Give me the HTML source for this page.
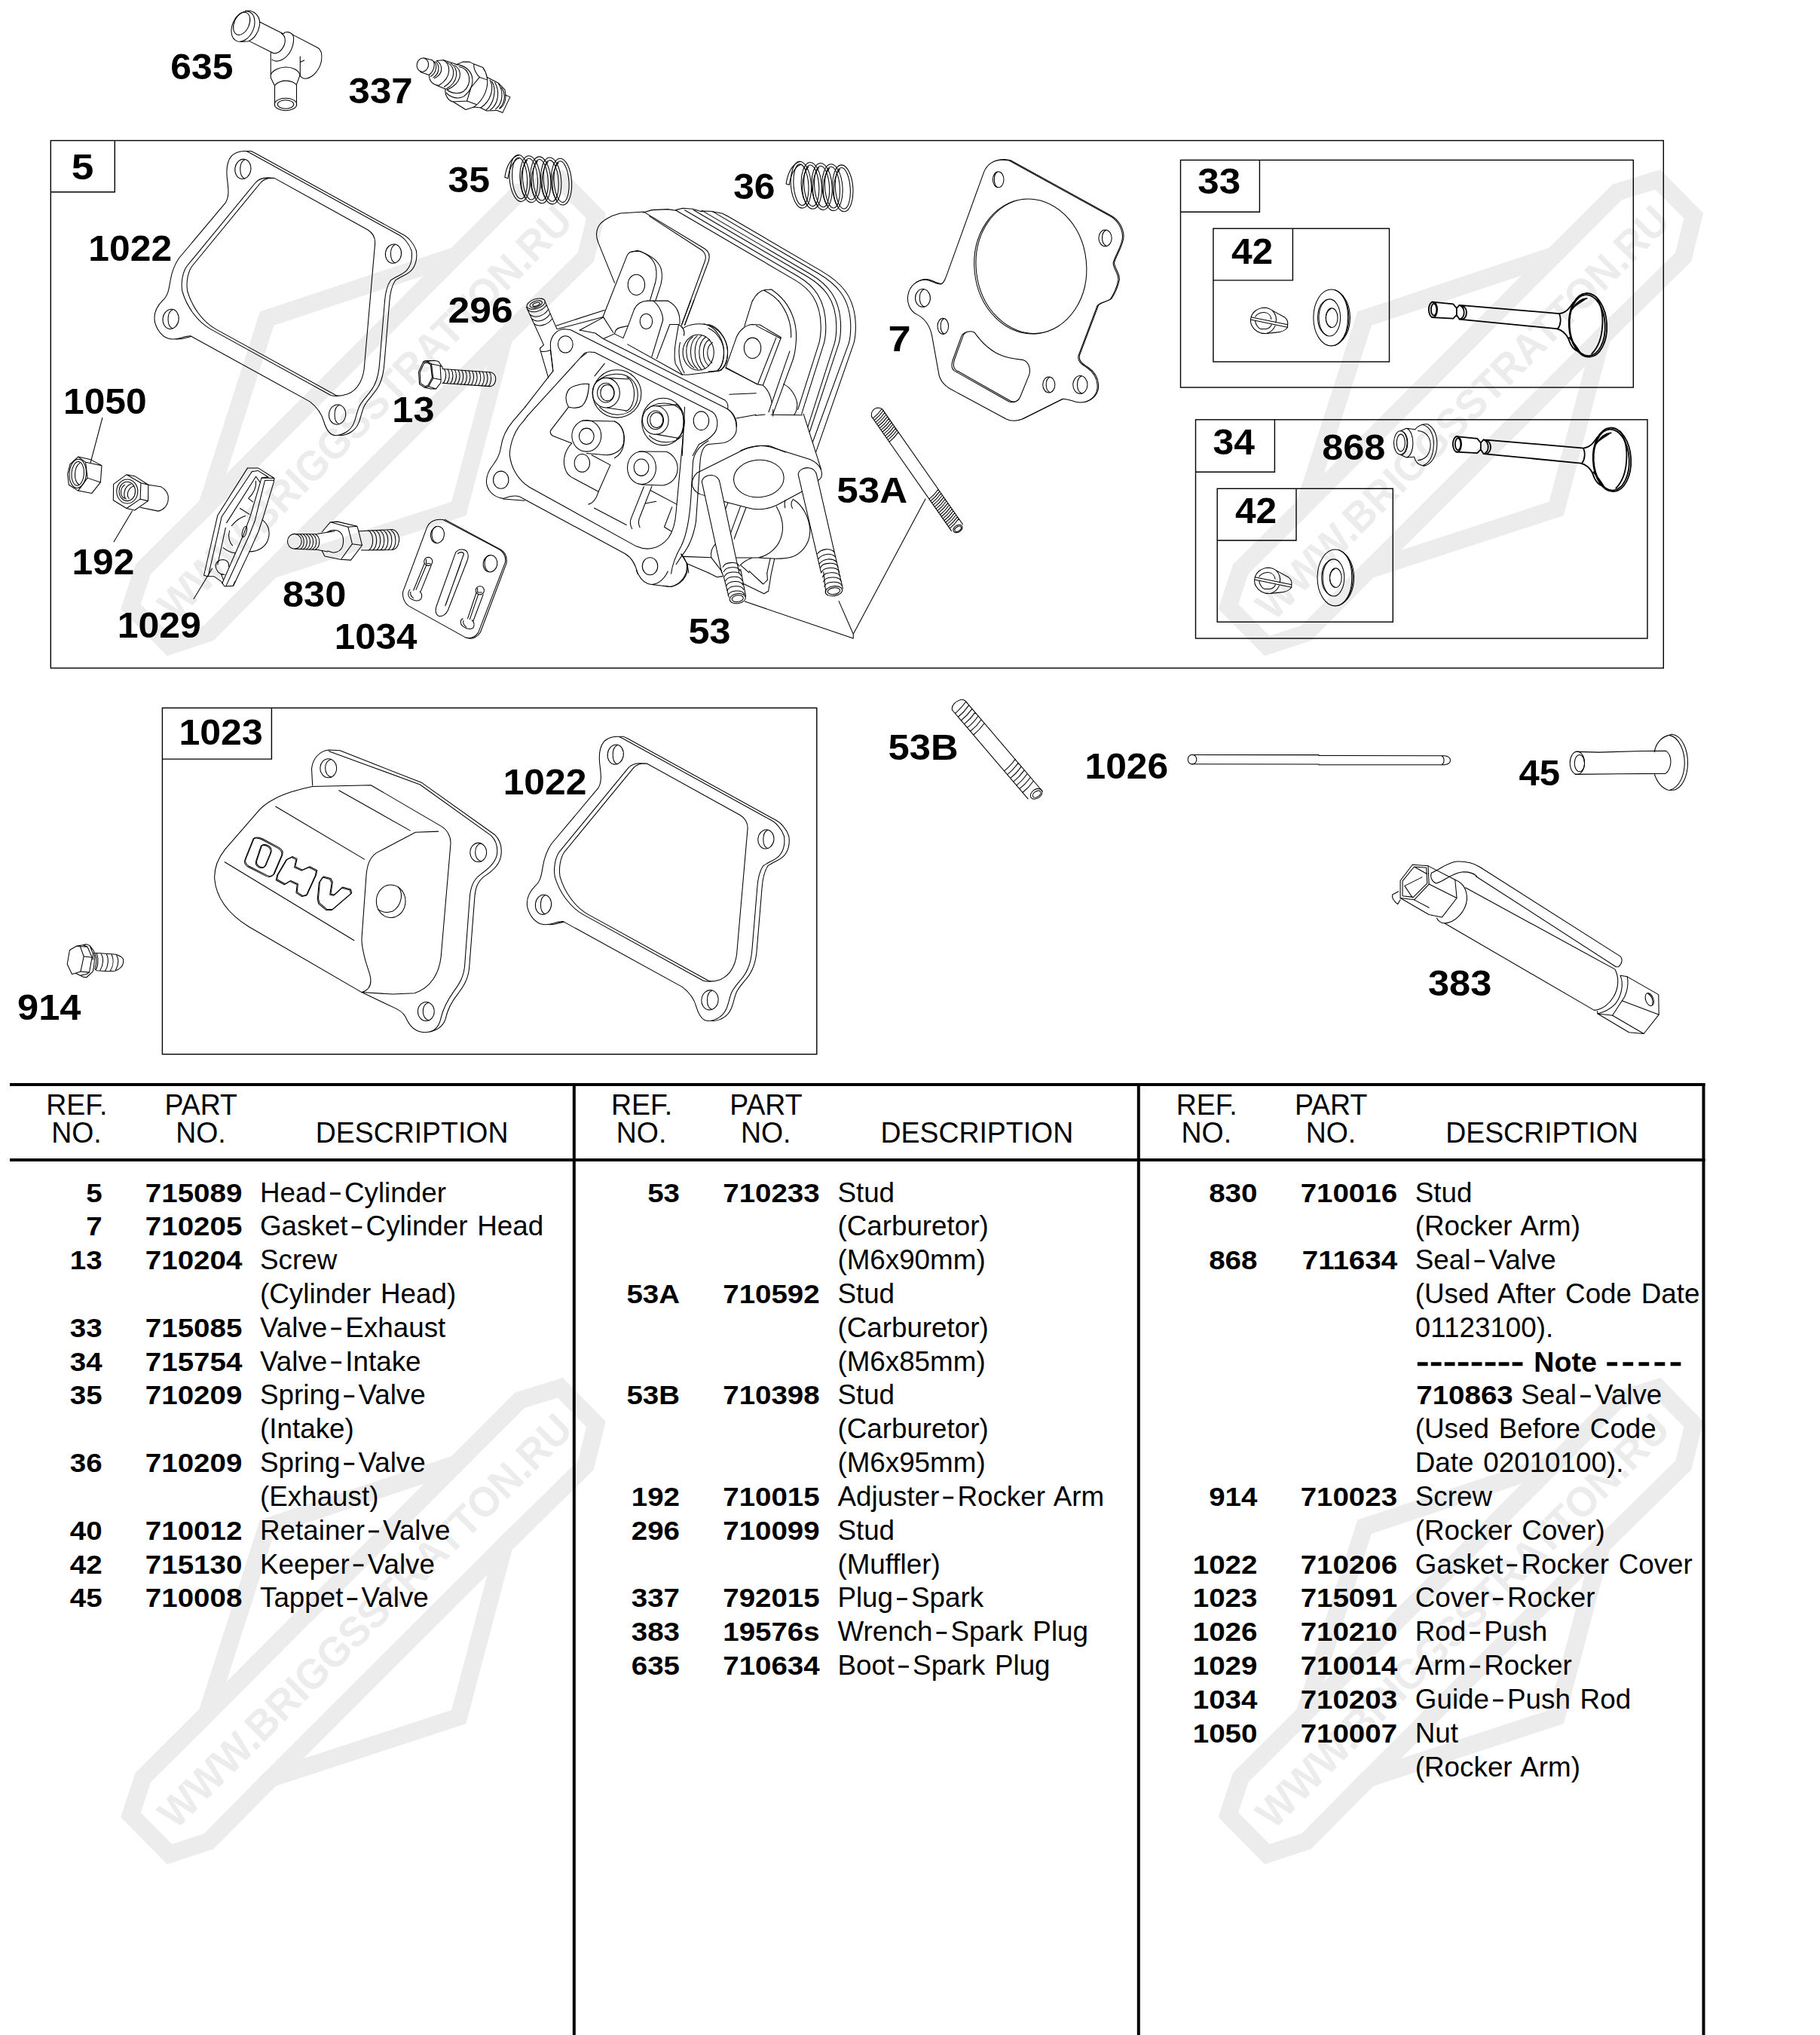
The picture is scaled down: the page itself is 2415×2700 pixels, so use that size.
<!DOCTYPE html>
<html><head><meta charset="utf-8"><title>Cylinder Head Parts</title>
<style>
html,body{margin:0;padding:0;background:#fff;}
svg{display:block;font-family:"Liberation Sans",sans-serif;}
.b{font-weight:bold;}
.ln{fill:none;stroke:#000;stroke-linejoin:round;stroke-linecap:round;}
.w{fill:#fff;}
.bx{fill:none;stroke:#000;stroke-width:1.4;}
</style></head><body>
<svg width="2415" height="2700" viewBox="0 0 2415 2700">
<rect width="2415" height="2700" fill="#fff"/>
<g fill="#000"><rect x="13.0" y="1437.0" width="2249.5" height="4"/><rect x="13.0" y="1537.0" width="2249.5" height="4"/><rect x="759.8" y="1437.0" width="4" height="1263.0"/><rect x="1508.8" y="1437.0" width="4" height="1263.0"/><rect x="2258.5" y="1437.0" width="4" height="1263.0"/></g>
<text transform="translate(101.80 1478.60) scale(0.9850 1)" font-size="38.00" text-anchor="middle">REF.</text><text transform="translate(101.40 1516.30) scale(0.9850 1)" font-size="38.00" text-anchor="middle">NO.</text><text transform="translate(266.70 1478.60) scale(0.9850 1)" font-size="38.00" text-anchor="middle">PART</text><text transform="translate(266.50 1516.30) scale(0.9850 1)" font-size="38.00" text-anchor="middle">NO.</text><text transform="translate(546.60 1516.30) scale(0.9850 1)" font-size="38.00" text-anchor="middle">DESCRIPTION</text><text transform="translate(851.50 1478.60) scale(0.9850 1)" font-size="38.00" text-anchor="middle">REF.</text><text transform="translate(851.10 1516.30) scale(0.9850 1)" font-size="38.00" text-anchor="middle">NO.</text><text transform="translate(1016.40 1478.60) scale(0.9850 1)" font-size="38.00" text-anchor="middle">PART</text><text transform="translate(1016.20 1516.30) scale(0.9850 1)" font-size="38.00" text-anchor="middle">NO.</text><text transform="translate(1296.30 1516.30) scale(0.9850 1)" font-size="38.00" text-anchor="middle">DESCRIPTION</text><text transform="translate(1601.20 1478.60) scale(0.9850 1)" font-size="38.00" text-anchor="middle">REF.</text><text transform="translate(1600.80 1516.30) scale(0.9850 1)" font-size="38.00" text-anchor="middle">NO.</text><text transform="translate(1766.10 1478.60) scale(0.9850 1)" font-size="38.00" text-anchor="middle">PART</text><text transform="translate(1765.90 1516.30) scale(0.9850 1)" font-size="38.00" text-anchor="middle">NO.</text><text transform="translate(2046.00 1516.30) scale(0.9850 1)" font-size="38.00" text-anchor="middle">DESCRIPTION</text>
<text transform="translate(135.60 1594.50) scale(1.0850 1)" font-size="35.50" class="b" text-anchor="end">5</text><text transform="translate(321.30 1594.50) scale(1.0850 1)" font-size="35.50" class="b" text-anchor="end">715089</text><text word-spacing="2.5" x="345.00" y="1594.50" font-size="36.80">Head</text><rect x="437.98" y="1582.20" width="13.8" height="2.9"/><text word-spacing="2.5" x="456.98" y="1594.50" font-size="36.80">Cylinder</text><text transform="translate(135.60 1639.33) scale(1.0850 1)" font-size="35.50" class="b" text-anchor="end">7</text><text transform="translate(321.30 1639.33) scale(1.0850 1)" font-size="35.50" class="b" text-anchor="end">710205</text><text word-spacing="2.5" x="345.00" y="1639.33" font-size="36.80">Gasket</text><rect x="466.58" y="1627.03" width="13.8" height="2.9"/><text word-spacing="2.5" x="485.58" y="1639.33" font-size="36.80">Cylinder Head</text><text transform="translate(135.60 1684.16) scale(1.0850 1)" font-size="35.50" class="b" text-anchor="end">13</text><text transform="translate(321.30 1684.16) scale(1.0850 1)" font-size="35.50" class="b" text-anchor="end">710204</text><text word-spacing="2.5" x="345.00" y="1684.16" font-size="36.80">Screw</text><text word-spacing="2.5" x="345.00" y="1728.99" font-size="36.80">(Cylinder Head)</text><text transform="translate(135.60 1773.82) scale(1.0850 1)" font-size="35.50" class="b" text-anchor="end">33</text><text transform="translate(321.30 1773.82) scale(1.0850 1)" font-size="35.50" class="b" text-anchor="end">715085</text><text word-spacing="2.5" x="345.00" y="1773.82" font-size="36.80">Valve</text><rect x="439.32" y="1761.52" width="13.8" height="2.9"/><text word-spacing="2.5" x="458.32" y="1773.82" font-size="36.80">Exhaust</text><text transform="translate(135.60 1818.65) scale(1.0850 1)" font-size="35.50" class="b" text-anchor="end">34</text><text transform="translate(321.30 1818.65) scale(1.0850 1)" font-size="35.50" class="b" text-anchor="end">715754</text><text word-spacing="2.5" x="345.00" y="1818.65" font-size="36.80">Valve</text><rect x="439.32" y="1806.35" width="13.8" height="2.9"/><text word-spacing="2.5" x="458.32" y="1818.65" font-size="36.80">Intake</text><text transform="translate(135.60 1863.48) scale(1.0850 1)" font-size="35.50" class="b" text-anchor="end">35</text><text transform="translate(321.30 1863.48) scale(1.0850 1)" font-size="35.50" class="b" text-anchor="end">710209</text><text word-spacing="2.5" x="345.00" y="1863.48" font-size="36.80">Spring</text><rect x="456.38" y="1851.18" width="13.8" height="2.9"/><text word-spacing="2.5" x="475.38" y="1863.48" font-size="36.80">Valve</text><text word-spacing="2.5" x="345.00" y="1908.31" font-size="36.80">(Intake)</text><text transform="translate(135.60 1953.14) scale(1.0850 1)" font-size="35.50" class="b" text-anchor="end">36</text><text transform="translate(321.30 1953.14) scale(1.0850 1)" font-size="35.50" class="b" text-anchor="end">710209</text><text word-spacing="2.5" x="345.00" y="1953.14" font-size="36.80">Spring</text><rect x="456.38" y="1940.84" width="13.8" height="2.9"/><text word-spacing="2.5" x="475.38" y="1953.14" font-size="36.80">Valve</text><text word-spacing="2.5" x="345.00" y="1997.97" font-size="36.80">(Exhaust)</text><text transform="translate(135.60 2042.80) scale(1.0850 1)" font-size="35.50" class="b" text-anchor="end">40</text><text transform="translate(321.30 2042.80) scale(1.0850 1)" font-size="35.50" class="b" text-anchor="end">710012</text><text word-spacing="2.5" x="345.00" y="2042.80" font-size="36.80">Retainer</text><rect x="489.10" y="2030.50" width="13.8" height="2.9"/><text word-spacing="2.5" x="508.10" y="2042.80" font-size="36.80">Valve</text><text transform="translate(135.60 2087.63) scale(1.0850 1)" font-size="35.50" class="b" text-anchor="end">42</text><text transform="translate(321.30 2087.63) scale(1.0850 1)" font-size="35.50" class="b" text-anchor="end">715130</text><text word-spacing="2.5" x="345.00" y="2087.63" font-size="36.80">Keeper</text><rect x="468.67" y="2075.33" width="13.8" height="2.9"/><text word-spacing="2.5" x="487.67" y="2087.63" font-size="36.80">Valve</text><text transform="translate(135.60 2132.46) scale(1.0850 1)" font-size="35.50" class="b" text-anchor="end">45</text><text transform="translate(321.30 2132.46) scale(1.0850 1)" font-size="35.50" class="b" text-anchor="end">710008</text><text word-spacing="2.5" x="345.00" y="2132.46" font-size="36.80">Tappet</text><rect x="460.49" y="2120.16" width="13.8" height="2.9"/><text word-spacing="2.5" x="479.49" y="2132.46" font-size="36.80">Valve</text>
<text transform="translate(902.00 1594.50) scale(1.0850 1)" font-size="35.50" class="b" text-anchor="end">53</text><text transform="translate(1087.70 1594.50) scale(1.0850 1)" font-size="35.50" class="b" text-anchor="end">710233</text><text word-spacing="2.5" x="1111.40" y="1594.50" font-size="36.80">Stud</text><text word-spacing="2.5" x="1111.40" y="1639.33" font-size="36.80">(Carburetor)</text><text word-spacing="2.5" x="1111.40" y="1684.16" font-size="36.80">(M6x90mm)</text><text transform="translate(902.00 1728.99) scale(1.0850 1)" font-size="35.50" class="b" text-anchor="end">53A</text><text transform="translate(1087.70 1728.99) scale(1.0850 1)" font-size="35.50" class="b" text-anchor="end">710592</text><text word-spacing="2.5" x="1111.40" y="1728.99" font-size="36.80">Stud</text><text word-spacing="2.5" x="1111.40" y="1773.82" font-size="36.80">(Carburetor)</text><text word-spacing="2.5" x="1111.40" y="1818.65" font-size="36.80">(M6x85mm)</text><text transform="translate(902.00 1863.48) scale(1.0850 1)" font-size="35.50" class="b" text-anchor="end">53B</text><text transform="translate(1087.70 1863.48) scale(1.0850 1)" font-size="35.50" class="b" text-anchor="end">710398</text><text word-spacing="2.5" x="1111.40" y="1863.48" font-size="36.80">Stud</text><text word-spacing="2.5" x="1111.40" y="1908.31" font-size="36.80">(Carburetor)</text><text word-spacing="2.5" x="1111.40" y="1953.14" font-size="36.80">(M6x95mm)</text><text transform="translate(902.00 1997.97) scale(1.0850 1)" font-size="35.50" class="b" text-anchor="end">192</text><text transform="translate(1087.70 1997.97) scale(1.0850 1)" font-size="35.50" class="b" text-anchor="end">710015</text><text word-spacing="2.5" x="1111.40" y="1997.97" font-size="36.80">Adjuster</text><rect x="1251.40" y="1985.67" width="13.8" height="2.9"/><text word-spacing="2.5" x="1270.40" y="1997.97" font-size="36.80">Rocker Arm</text><text transform="translate(902.00 2042.80) scale(1.0850 1)" font-size="35.50" class="b" text-anchor="end">296</text><text transform="translate(1087.70 2042.80) scale(1.0850 1)" font-size="35.50" class="b" text-anchor="end">710099</text><text word-spacing="2.5" x="1111.40" y="2042.80" font-size="36.80">Stud</text><text word-spacing="2.5" x="1111.40" y="2087.63" font-size="36.80">(Muffler)</text><text transform="translate(902.00 2132.46) scale(1.0850 1)" font-size="35.50" class="b" text-anchor="end">337</text><text transform="translate(1087.70 2132.46) scale(1.0850 1)" font-size="35.50" class="b" text-anchor="end">792015</text><text word-spacing="2.5" x="1111.40" y="2132.46" font-size="36.80">Plug</text><rect x="1190.05" y="2120.16" width="13.8" height="2.9"/><text word-spacing="2.5" x="1209.05" y="2132.46" font-size="36.80">Spark</text><text transform="translate(902.00 2177.29) scale(1.0850 1)" font-size="35.50" class="b" text-anchor="end">383</text><text transform="translate(1087.70 2177.29) scale(1.0850 1)" font-size="35.50" class="b" text-anchor="end">19576s</text><text word-spacing="2.5" x="1111.40" y="2177.29" font-size="36.80">Wrench</text><rect x="1242.52" y="2164.99" width="13.8" height="2.9"/><text word-spacing="2.5" x="1261.52" y="2177.29" font-size="36.80">Spark Plug</text><text transform="translate(902.00 2222.12) scale(1.0850 1)" font-size="35.50" class="b" text-anchor="end">635</text><text transform="translate(1087.70 2222.12) scale(1.0850 1)" font-size="35.50" class="b" text-anchor="end">710634</text><text word-spacing="2.5" x="1111.40" y="2222.12" font-size="36.80">Boot</text><rect x="1192.10" y="2209.82" width="13.8" height="2.9"/><text word-spacing="2.5" x="1211.10" y="2222.12" font-size="36.80">Spark Plug</text>
<text transform="translate(1668.40 1594.50) scale(1.0850 1)" font-size="35.50" class="b" text-anchor="end">830</text><text transform="translate(1854.10 1594.50) scale(1.0850 1)" font-size="35.50" class="b" text-anchor="end">710016</text><text word-spacing="2.5" x="1877.80" y="1594.50" font-size="36.80">Stud</text><text word-spacing="2.5" x="1877.80" y="1639.33" font-size="36.80">(Rocker Arm)</text><text transform="translate(1668.40 1684.16) scale(1.0850 1)" font-size="35.50" class="b" text-anchor="end">868</text><text transform="translate(1854.10 1684.16) scale(1.0850 1)" font-size="35.50" class="b" text-anchor="end">711634</text><text word-spacing="2.5" x="1877.80" y="1684.16" font-size="36.80">Seal</text><rect x="1956.45" y="1671.86" width="13.8" height="2.9"/><text word-spacing="2.5" x="1975.45" y="1684.16" font-size="36.80">Valve</text><text word-spacing="2.5" x="1877.80" y="1728.99" font-size="36.80">(Used After Code Date</text><text word-spacing="2.5" x="1877.80" y="1773.82" font-size="36.80">01123100).</text><rect x="1880.80" y="1807.25" width="13.8" height="5"/><rect x="1898.78" y="1807.25" width="13.8" height="5"/><rect x="1916.76" y="1807.25" width="13.8" height="5"/><rect x="1934.74" y="1807.25" width="13.8" height="5"/><rect x="1952.72" y="1807.25" width="13.8" height="5"/><rect x="1970.70" y="1807.25" width="13.8" height="5"/><rect x="1988.68" y="1807.25" width="13.8" height="5"/><rect x="2006.66" y="1807.25" width="13.8" height="5"/><text transform="translate(2035.30 1819.65) scale(1.0300 1)" font-size="36.50" class="b">Note</text><rect x="2132.30" y="1807.25" width="13.8" height="5"/><rect x="2153.37" y="1807.25" width="13.8" height="5"/><rect x="2174.44" y="1807.25" width="13.8" height="5"/><rect x="2195.51" y="1807.25" width="13.8" height="5"/><rect x="2216.58" y="1807.25" width="13.8" height="5"/><text transform="translate(1879.30 1863.48) scale(1.0850 1)" font-size="35.50" class="b">710863</text><text word-spacing="2.5" x="2018.33" y="1863.48" font-size="36.80">Seal</text><rect x="2096.99" y="1851.18" width="13.8" height="2.9"/><text word-spacing="2.5" x="2115.99" y="1863.48" font-size="36.80">Valve</text><text word-spacing="2.5" x="1877.80" y="1908.31" font-size="36.80">(Used Before Code</text><text word-spacing="2.5" x="1877.80" y="1953.14" font-size="36.80">Date 02010100).</text><text transform="translate(1668.40 1997.97) scale(1.0850 1)" font-size="35.50" class="b" text-anchor="end">914</text><text transform="translate(1854.10 1997.97) scale(1.0850 1)" font-size="35.50" class="b" text-anchor="end">710023</text><text word-spacing="2.5" x="1877.80" y="1997.97" font-size="36.80">Screw</text><text word-spacing="2.5" x="1877.80" y="2042.80" font-size="36.80">(Rocker Cover)</text><text transform="translate(1668.40 2087.63) scale(1.0850 1)" font-size="35.50" class="b" text-anchor="end">1022</text><text transform="translate(1854.10 2087.63) scale(1.0850 1)" font-size="35.50" class="b" text-anchor="end">710206</text><text word-spacing="2.5" x="1877.80" y="2087.63" font-size="36.80">Gasket</text><rect x="1999.38" y="2075.33" width="13.8" height="2.9"/><text word-spacing="2.5" x="2018.38" y="2087.63" font-size="36.80">Rocker Cover</text><text transform="translate(1668.40 2132.46) scale(1.0850 1)" font-size="35.50" class="b" text-anchor="end">1023</text><text transform="translate(1854.10 2132.46) scale(1.0850 1)" font-size="35.50" class="b" text-anchor="end">715091</text><text word-spacing="2.5" x="1877.80" y="2132.46" font-size="36.80">Cover</text><rect x="1980.96" y="2120.16" width="13.8" height="2.9"/><text word-spacing="2.5" x="1999.96" y="2132.46" font-size="36.80">Rocker</text><text transform="translate(1668.40 2177.29) scale(1.0850 1)" font-size="35.50" class="b" text-anchor="end">1026</text><text transform="translate(1854.10 2177.29) scale(1.0850 1)" font-size="35.50" class="b" text-anchor="end">710210</text><text word-spacing="2.5" x="1877.80" y="2177.29" font-size="36.80">Rod</text><rect x="1950.31" y="2164.99" width="13.8" height="2.9"/><text word-spacing="2.5" x="1969.31" y="2177.29" font-size="36.80">Push</text><text transform="translate(1668.40 2222.12) scale(1.0850 1)" font-size="35.50" class="b" text-anchor="end">1029</text><text transform="translate(1854.10 2222.12) scale(1.0850 1)" font-size="35.50" class="b" text-anchor="end">710014</text><text word-spacing="2.5" x="1877.80" y="2222.12" font-size="36.80">Arm</text><rect x="1950.26" y="2209.82" width="13.8" height="2.9"/><text word-spacing="2.5" x="1969.26" y="2222.12" font-size="36.80">Rocker</text><text transform="translate(1668.40 2266.95) scale(1.0850 1)" font-size="35.50" class="b" text-anchor="end">1034</text><text transform="translate(1854.10 2266.95) scale(1.0850 1)" font-size="35.50" class="b" text-anchor="end">710203</text><text word-spacing="2.5" x="1877.80" y="2266.95" font-size="36.80">Guide</text><rect x="1981.00" y="2254.65" width="13.8" height="2.9"/><text word-spacing="2.5" x="2000.00" y="2266.95" font-size="36.80">Push Rod</text><text transform="translate(1668.40 2311.78) scale(1.0850 1)" font-size="35.50" class="b" text-anchor="end">1050</text><text transform="translate(1854.10 2311.78) scale(1.0850 1)" font-size="35.50" class="b" text-anchor="end">710007</text><text word-spacing="2.5" x="1877.80" y="2311.78" font-size="36.80">Nut</text><text word-spacing="2.5" x="1877.80" y="2356.61" font-size="36.80">(Rocker Arm)</text>
<rect class="bx" x="67.3" y="186.5" width="2140.0" height="699.9"/><path class="bx" d="M152.3 186.5V254.8H67.3"/><rect class="bx" x="1566.5" y="212.4" width="600.8" height="301.6"/><path class="bx" d="M1671.4 212.4V281.2H1566.5"/><rect class="bx" x="1609.9" y="303.2" width="233.6" height="176.8"/><path class="bx" d="M1715.4 303.2V371.9H1609.9"/><rect class="bx" x="1586.5" y="556.8" width="599.5" height="290.2"/><path class="bx" d="M1691.4 556.8V626.2H1586.5"/><rect class="bx" x="1615.2" y="648.3" width="233.1" height="176.9"/><path class="bx" d="M1720.0 648.3V717.0H1615.2"/><rect class="bx" x="215.4" y="939.3" width="868.4" height="459.4"/><path class="bx" d="M360.4 939.3V1007.1H215.4"/>
<text transform="translate(226.25 104.50) scale(1.0269 1)" font-size="48.60" class="b">635</text><text transform="translate(462.52 136.80) scale(1.0501 1)" font-size="48.60" class="b">337</text><text transform="translate(94.80 237.60) scale(1.0947 1)" font-size="48.60" class="b">5</text><text transform="translate(594.45 255.20) scale(1.0288 1)" font-size="48.60" class="b">35</text><text transform="translate(973.16 263.70) scale(1.0229 1)" font-size="48.60" class="b">36</text><text transform="translate(117.37 345.60) scale(1.0240 1)" font-size="48.60" class="b">1022</text><text transform="translate(594.59 428.10) scale(1.0617 1)" font-size="48.60" class="b">296</text><text transform="translate(1178.56 465.90) scale(1.1151 1)" font-size="48.60" class="b">7</text><text transform="translate(520.31 559.70) scale(1.0410 1)" font-size="48.60" class="b">13</text><text transform="translate(83.97 549.20) scale(1.0240 1)" font-size="48.60" class="b">1050</text><text transform="translate(95.47 761.60) scale(1.0222 1)" font-size="48.60" class="b">192</text><text transform="translate(155.65 845.70) scale(1.0293 1)" font-size="48.60" class="b">1029</text><text transform="translate(374.88 804.80) scale(1.0411 1)" font-size="48.60" class="b">830</text><text transform="translate(443.69 861.40) scale(1.0159 1)" font-size="48.60" class="b">1034</text><text transform="translate(913.59 853.50) scale(1.0357 1)" font-size="48.60" class="b">53</text><text transform="translate(1110.37 667.40) scale(1.0514 1)" font-size="48.60" class="b">53A</text><text transform="translate(1589.22 257.00) scale(1.0523 1)" font-size="48.60" class="b">33</text><text transform="translate(1633.95 349.70) scale(1.0220 1)" font-size="48.60" class="b">42</text><text transform="translate(1609.55 603.10) scale(1.0250 1)" font-size="48.60" class="b">34</text><text transform="translate(1754.18 610.00) scale(1.0397 1)" font-size="48.60" class="b">868</text><text transform="translate(1638.95 694.20) scale(1.0220 1)" font-size="48.60" class="b">42</text><text transform="translate(237.45 988.10) scale(1.0293 1)" font-size="48.60" class="b">1023</text><text transform="translate(667.66 1053.60) scale(1.0249 1)" font-size="48.60" class="b">1022</text><text transform="translate(23.03 1352.70) scale(1.0408 1)" font-size="48.60" class="b">914</text><text transform="translate(1178.58 1007.50) scale(1.0435 1)" font-size="48.60" class="b">53B</text><text transform="translate(1439.46 1033.10) scale(1.0244 1)" font-size="48.60" class="b">1026</text><text transform="translate(2015.56 1041.60) scale(1.0096 1)" font-size="48.60" class="b">45</text><text transform="translate(1894.94 1321.20) scale(1.0410 1)" font-size="48.60" class="b">383</text>
<!-- p01_boot635.svg -->
<g class="ln" transform="translate(290 0) scale(0.16484)" stroke-width="6.370">
<ellipse cx="197" cy="213" rx="86" ry="128" transform="rotate(24 197 213)"/>
<ellipse cx="186" cy="190" rx="60" ry="96" transform="rotate(24 186 190)"/>
<path d="M215 86L250 86C305 95 340 150 330 205C320 265 285 315 240 332L180 336"/>
<path d="M333 177L520 272M245 330L425 420"/>
<path d="M505 268C545 290 545 350 510 395C490 425 450 440 425 420"/>
<path d="M520 272C535 255 570 250 598 280C615 320 595 400 560 440C520 490 460 505 430 480"/>
<path d="M598 280L800 385C830 400 835 440 828 490C815 560 760 625 705 632C680 635 665 625 655 605"/>
<path d="M420 425L420 625L452 690L452 850M657 455L657 600L628 680L628 850M657 500L690 485"/>
<path d="M420 600C440 560 500 540 540 540C590 540 640 560 655 600M452 690C470 660 520 648 545 650C580 650 615 665 628 685"/>
<ellipse cx="540" cy="840" rx="89" ry="50"/><ellipse cx="540" cy="840" rx="65" ry="35"/>
</g>

<!-- p02_plug337.svg -->
<g class="ln" transform="translate(530 50) scale(0.0989)" stroke-width="10.617">
<ellipse cx="312" cy="365" rx="78" ry="92" transform="rotate(12 312 365)"/>
<path d="M330 272L440 300M280 460L395 500"/>
<path d="M440 300C490 340 470 450 395 500M460 318C515 360 500 470 420 520M485 320C545 370 540 480 455 535M500 310C580 360 600 480 470 545"/>
<path d="M500 308L590 300C680 340 720 520 530 640C450 640 400 580 400 510"/>
<path d="M640 330C760 400 760 560 600 660M690 345C800 420 800 590 625 690M740 370C850 440 850 600 640 700"/>
<path d="M590 300L770 360M500 640L620 690"/>
<path d="M770 360L850 325L940 325L1000 355L1120 400C1150 440 1170 500 1175 530"/>
<path d="M800 390C960 420 980 620 860 720C800 760 700 750 640 700M760 360C1000 380 1060 640 860 790C780 830 680 800 630 740"/>
<path d="M615 690C610 780 660 850 720 860L890 965L1000 930"/>
<path d="M1000 355C990 420 1040 500 1075 530L1175 565M1075 530L960 670L905 850L720 860M905 850L1030 895"/>
<path d="M1175 530C1200 650 1150 820 1000 930"/>
<path d="M1215 570C1280 680 1220 860 1090 940M1240 585C1310 700 1270 880 1160 975M1280 600C1350 720 1330 890 1220 970M1330 620C1400 720 1390 880 1290 960M1370 670C1430 760 1420 880 1340 950"/>
<path d="M1175 530L1330 610L1415 700L1425 770M1000 930L1090 940L1170 980L1310 975"/>
<path d="M1425 770L1485 795L1385 1005L1310 975M1425 770C1430 850 1400 920 1350 950"/>
</g>

<!-- p03_gasket1022.svg -->
<defs>
<path id="gkO" d="M520 580L755 300C775 270 770 230 765 190C758 140 760 95 785 65C805 45 835 38 860 40L881 50L1616 455C1650 470 1680 505 1691 540C1697 575 1690 615 1666 640C1645 662 1610 672 1586 690C1562 725 1558 770 1556 800L1531 1100C1528 1150 1520 1190 1500 1225C1480 1262 1445 1290 1428 1325C1415 1355 1412 1385 1400 1410C1385 1445 1350 1468 1310 1470C1282 1470 1262 1440 1250 1400C1242 1370 1225 1335 1180 1300L580 970C550 968 520 990 480 985C440 980 410 940 400 900C392 860 405 825 440 790C470 765 472 720 478 690C485 650 500 610 520 580Z"/>
<path id="gkI" d="M560 620L905 200C920 182 940 174 965 174L1000 175L1470 435C1495 450 1508 470 1508 500L1455 1110C1452 1180 1425 1240 1370 1262C1340 1272 1310 1275 1285 1268L680 935C610 895 560 820 538 745C530 700 540 650 560 620Z"/>
<clipPath id="gkC"><use href="#gkI"/></clipPath>
<g id="gk1022">
<use href="#gkO" class="w" transform="translate(24 0)"/>
<use href="#gkO" class="w"/>
<use href="#gkI" class="w"/>
<g clip-path="url(#gkC)"><use href="#gkI" transform="translate(26 0)"/></g>
<ellipse cx="843" cy="130" rx="40" ry="50" transform="rotate(8 843 130)"/><path d="M852 83C822 95 822 168 852 178"/>
<ellipse cx="1600" cy="556" rx="40" ry="48" transform="rotate(8 1600 556)"/><path d="M1609 510C1579 522 1579 592 1609 602"/>
<ellipse cx="480" cy="885" rx="40" ry="50" transform="rotate(8 480 885)"/><path d="M489 838C459 850 459 922 489 932"/>
<ellipse cx="1318" cy="1365" rx="42" ry="50" transform="rotate(8 1318 1365)"/><path d="M1327 1318C1297 1330 1297 1402 1327 1412"/>
</g>
</defs>
<g class="ln" transform="translate(100 190) scale(0.26374)" stroke-width="3.981"><use href="#gk1022"/></g>
<g class="ln" transform="translate(594.4 966.8) scale(0.26374)" stroke-width="3.981"><use href="#gk1022"/></g>

<!-- p04_springs.svg -->
<defs><g id="spr">
<ellipse cx="665" cy="282" rx="82" ry="188" transform="rotate(-4 665 282)"/>
<ellipse cx="665" cy="282" rx="60" ry="166" transform="rotate(-4 665 282)"/>
<ellipse cx="749" cy="289" rx="82" ry="188" transform="rotate(-4 749 289)"/>
<ellipse cx="749" cy="289" rx="60" ry="166" transform="rotate(-4 749 289)"/>
<ellipse cx="833" cy="296" rx="82" ry="188" transform="rotate(-4 833 296)"/>
<ellipse cx="833" cy="296" rx="60" ry="166" transform="rotate(-4 833 296)"/>
<ellipse cx="917" cy="303" rx="82" ry="188" transform="rotate(-4 917 303)"/>
<ellipse cx="917" cy="303" rx="60" ry="166" transform="rotate(-4 917 303)"/>
<ellipse cx="1001" cy="310" rx="82" ry="188" transform="rotate(-4 1001 310)"/>
<ellipse cx="1001" cy="310" rx="60" ry="166" transform="rotate(-4 1001 310)"/>
<path d="M725 136C665 206 660 366 710 436"/>
<path d="M809 143C749 213 744 373 794 443"/>
<path d="M893 150C833 220 828 380 878 450"/>
<path d="M977 157C917 227 912 387 962 457"/>
<path d="M545 275C555 200 590 110 660 95M570 283C580 210 610 135 665 118M545 275L570 283"/>
</g></defs>
<g class="ln" transform="translate(580 190) scale(0.16484)" stroke-width="6.370"><use href="#spr"/></g>
<g class="ln" transform="translate(953.3 198.7) scale(0.16484)" stroke-width="6.370"><use href="#spr"/></g>

<!-- p10_head_z1.svg -->
<g class="ln" transform="translate(700 400) scale(0.16484)" stroke-width="6.370">
<!-- TL ear + rim top edges -->
<ellipse cx="305" cy="345" rx="60" ry="68"/>
<path d="M205 560C200 480 180 400 185 330C195 270 235 230 290 222L345 228L1600 860C1655 890 1690 950 1682 1010"/>
<path d="M420 230L545 255L610 300L1590 795C1610 810 1615 835 1612 860"/>
<path d="M805 345L1245 590M1595 535L1850 665"/>
<path d="M0 920L460 415C475 405 500 403 540 410L1470 880C1520 900 1540 960 1520 1030C1500 1090 1420 1130 1380 1150L1330 1240"/>
<path d="M205 560L-20 850M430 450L475 415M540 600L620 500"/>
<!-- guide boss 1 -->
<ellipse cx="720" cy="743" rx="195" ry="192"/>
<path d="M565 640C640 570 790 560 850 640C900 700 900 800 850 860C790 930 660 930 580 850"/>
<ellipse cx="632" cy="735" rx="110" ry="120"/><ellipse cx="630" cy="735" rx="68" ry="78"/><ellipse cx="642" cy="735" rx="55" ry="65"/>
<path d="M640 615L810 625M640 855L800 880M800 610C880 650 880 850 790 885"/>
<!-- guide boss 2 -->
<ellipse cx="1092" cy="968" rx="172" ry="190"/>
<path d="M960 870C1030 800 1180 800 1240 880M980 1080C1050 1150 1190 1150 1245 1080"/>
<ellipse cx="1030" cy="955" rx="105" ry="115"/><ellipse cx="1030" cy="955" rx="65" ry="75"/><ellipse cx="1038" cy="955" rx="52" ry="62"/>
<path d="M1040 842L1200 830M1040 1070L1210 1100M1195 830C1270 860 1280 1060 1200 1105M1265 850L1245 1240"/>
<!-- pushrod oval + lower-left boss -->
<path d="M330 850C290 780 310 700 380 680C420 665 470 660 495 665C490 740 480 800 440 840C410 860 360 860 330 850L185 1040C180 1060 190 1075 210 1085L355 1140"/>
<ellipse cx="475" cy="1085" rx="60" ry="65"/><ellipse cx="475" cy="1082" rx="118" ry="126"/>
<path d="M440 958L700 965C760 990 790 1060 775 1150C765 1200 740 1240 700 1260"/>
<!-- right ear hole -->
<ellipse cx="1398" cy="960" rx="62" ry="75"/>
<!-- spark plug boss -->
<path d="M1255 215C1300 180 1400 170 1470 195C1560 230 1620 330 1610 430C1605 490 1580 540 1540 560L1290 590L1245 588"/>
<path d="M1420 180C1520 200 1590 320 1580 430C1575 490 1560 530 1530 555"/>
<ellipse cx="1375" cy="410" rx="125" ry="143"/>
<path d="M1330 285C1260 330 1260 480 1340 535M1365 278C1295 330 1295 480 1370 545M1400 275C1330 330 1330 480 1400 548M1435 285C1365 335 1365 475 1430 540M1465 305C1400 345 1400 470 1460 520M1490 330C1435 365 1435 455 1485 495"/>
<path d="M1145 185L1215 185C1250 200 1270 240 1258 275M1145 185L1040 460M1215 190C1200 300 1170 400 1190 500L1245 588M1228 330C1210 400 1220 500 1262 575"/>
<!-- left bracket bottoms -->
<path d="M230 195L620 70M240 222L610 125L690 250M420 230L610 128M610 300L700 260C705 235 720 215 745 210L810 195L860 60M700 260L770 295L810 195"/>
<path d="M860 60C880 20 920 -5 960 -5M1010 -5C1060 30 1090 100 1090 150L1000 445"/>
<ellipse cx="955" cy="160" rx="50" ry="62"/>
<path d="M1130 -5C1200 30 1230 100 1225 180M1240 190L1315 -10M1265 190L1340 -10"/>
<!-- right bracket lower-left -->
<path d="M1625 748L1840 738M1680 940L1840 912"/>
</g>

<!-- p11_head_z2.svg -->
<g class="ln" transform="translate(640 260) scale(0.16484)" stroke-width="6.370">
<!-- back wall -->
<path d="M1065 700L935 380C915 330 915 280 935 245C960 200 1030 160 1110 140L1300 128L1790 425C1822 447 1835 482 1822 522L1629 1039"/>
<path d="M1345 163L1765 435C1795 455 1805 490 1793 522L1604 1039"/>
<!-- tall left bracket -->
<path d="M970 975L1165 480C1175 455 1200 445 1230 445L1270 445C1330 470 1380 510 1395 570C1410 630 1395 700 1380 740L1350 840"/>
<path d="M1200 450L1250 440C1340 470 1420 520 1440 590C1455 650 1440 710 1425 750L1395 840"/>
<ellipse cx="1240" cy="715" rx="68" ry="83"/>
<path d="M1324 844L1494 844"/>
<!-- stud 296 -->
<ellipse cx="432" cy="868" rx="76" ry="38" transform="rotate(-18 432 868)"/>
<ellipse cx="432" cy="870" rx="52" ry="24" transform="rotate(-18 432 870)"/>
<ellipse cx="434" cy="872" rx="30" ry="13" transform="rotate(-18 434 872)"/>
<path d="M355 895L494 1199M505 850L600 1070"/>
<path d="M365 915C400 950 480 930 515 880M385 955C420 990 500 965 530 915M400 990C440 1025 515 1000 545 950M420 1030C455 1060 530 1035 560 990"/>
<path d="M494 1199L464 1227L469 1249C494 1257 524 1251 549 1241M469 1249L532 1464M549 1241L569 1409"/>
</g>

<!-- p12_head_z3.svg -->
<g class="ln" transform="translate(900 260) scale(0.16484)" stroke-width="6.370">
<path d="M392 159L1150 603C1303 692 1426 804 1428 1050C1428 1110 1423 1150 1413 1185L1108 2062 M276 125L1120 619C1267 705 1386 813 1388 1050C1388 1110 1383 1150 1373 1185L1083 1979 M188 116L1060 626C1196 706 1306 817 1308 1050C1308 1110 1303 1150 1293 1185L1058 1899 M124 114L1034 646C1165 723 1271 828 1273 1050C1273 1110 1268 1150 1258 1185L1043 1859 M52 114L970 651C1090 722 1186 831 1188 1050C1188 1110 1183 1150 1173 1185L993 1754 M-20 115L940 677C1054 744 1146 845 1148 1050C1148 1110 1143 1150 1133 1185L963 1719"/>
<path d="M-284 134L-212 113L-84 107L-20 117M-20 113L36 99L116 105L188 126M188 121L260 123L356 141L392 161"/>
<path d="M1008 1754L1150 2200"/>
<path d="M598 845C625 790 665 760 700 755L750 752C790 780 825 810 853 846M690 760C740 785 780 815 808 846"/>
</g>

<!-- p13_head_z4.svg -->
<g class="ln" transform="translate(940 400) scale(0.16484)" stroke-width="6.370">
<!-- right bracket -->
<path d="M140 530L225 290C250 230 300 190 350 185L415 188L585 290L440 672M385 195L580 297M545 292L400 660M140 530L390 665L440 675C490 720 505 780 510 812"/>
<ellipse cx="355" cy="375" rx="68" ry="83"/>
<path d="M290 200L355 -10M565 -5C640 90 670 190 665 290M610 -5C690 100 715 220 705 330C700 400 690 440 680 470L520 905M655 400L485 890"/>
<path d="M605 665C660 690 710 760 715 830C715 870 700 900 690 915M505 912L755 915M520 870L520 922"/>
<!-- spark boss right side -->
<path d="M0 185C80 200 150 300 155 400C158 460 140 520 100 555L0 565M0 215C60 240 125 320 125 410C125 470 110 520 80 550"/>
<!-- right ear of rocker box -->
<path d="M155 865C200 900 230 960 225 1040C215 1100 150 1140 100 1140L0 1150M380 918L455 910"/>
<path d="M260 1200C330 1170 430 1150 500 1165L620 1213"/>
</g>

<!-- p14_head_z5.svg -->
<g class="ln" transform="translate(640 560) scale(0.16484)" stroke-width="6.370">
<ellipse cx="150" cy="465" rx="62" ry="70"/>
<path d="M344 -121L245 -5C190 60 160 130 150 200C142 260 120 300 90 340C50 390 25 440 35 500C50 570 110 610 170 615C210 600 260 585 300 600L345 625L1150 1060C1200 1090 1235 1150 1250 1220M168 619L340 633"/>
<path d="M364 -51L330 -5C265 60 225 160 220 260C230 370 290 470 380 525L1240 1000C1330 1040 1430 1020 1500 930C1540 870 1555 800 1560 720L1610 180L1625 -5"/>
<!-- lower-left boss end + pocket -->
<path d="M1064 -6C1124 19 1150 95 1137 170C1122 230 1060 265 1000 265L840 252"/>
<ellipse cx="803" cy="330" rx="62" ry="72"/>
<path d="M720 170C670 220 650 290 660 350C670 400 690 430 720 445L935 560M880 265L1030 345L935 560C920 610 900 650 855 662"/>
<!-- lower-right boss -->
<ellipse cx="1280" cy="365" rx="60" ry="68"/><ellipse cx="1283" cy="368" rx="115" ry="132"/>
<path d="M1260 236L1480 238C1540 260 1575 320 1572 380C1568 450 1520 500 1450 510L1280 503"/>
<path d="M1300 520L1200 770C1185 800 1190 830 1205 858M1365 515L1270 760C1255 790 1255 820 1268 848M1310 655L1400 638M1355 550L1565 662M1527 685L1465 845L1520 878M900 692L1160 828"/>
<!-- right outer edges -->
<path d="M1820 150C1750 190 1700 250 1695 330L1680 600C1670 760 1650 900 1600 1000C1560 1070 1530 1140 1520 1220M1735 580L1720 800C1700 920 1660 1010 1610 1070L1560 1145"/>
<ellipse cx="1350" cy="1160" rx="62" ry="70"/>
</g>

<!-- p15_head_z6.svg -->
<g class="ln" transform="translate(900 560) scale(0.16484)" stroke-width="6.370">
<!-- intake flange -->
<path d="M150 410L540 215C600 190 680 185 740 200L1060 300C1110 320 1150 360 1155 410C1158 440 1145 460 1125 470M150 410C120 440 105 480 115 520C130 560 170 585 210 590M370 640L560 690C640 715 720 700 790 670L995 560"/>
<ellipse cx="648" cy="455" rx="202" ry="150" transform="rotate(-4 648 455)"/>
<!-- studs 53 -->
<path d="M190 480C195 445 230 425 270 428C305 430 330 455 335 490M190 480L350 1213M335 490L490 1213"/>
<path d="M965 420C970 385 1010 365 1050 368C1090 372 1110 400 1115 430M965 420L1150 1213M1115 430L1295 1213"/>
<path d="M1120 1060C1150 1020 1220 1010 1255 1045M1128 1100C1160 1060 1230 1050 1265 1085M1136 1140C1168 1100 1238 1090 1273 1125"/>
<!-- port tube -->
<path d="M790 680C830 750 850 830 835 900C815 1000 740 1070 650 1090L470 1092M930 625C1000 670 1050 760 1060 860C1065 950 1020 1040 930 1080C880 1100 830 1100 780 1100L650 1092"/>
<path d="M860 630C855 650 855 670 860 690M925 620C910 640 905 670 920 695M400 650L380 700M500 680L430 870L420 900M545 690L450 940M740 1100L715 1213M775 1100L750 1213M590 1095C550 1110 520 1130 500 1150L570 1213"/>
<!-- rocker box ear continuation -->
<path d="M243 179C200 192 180 250 175 330L158 580"/>
<path d="M300 980C270 1010 260 1050 265 1090M23 1065L73 1140L83 1213M43 1082L265 1090L350 1200M73 1140L243 1213"/>
</g>

<!-- p16_head_z7.svg -->
<g class="ln" transform="translate(880 700) scale(0.23077)" stroke-width="4.550">
<path d="M337 255L350 290L378 400M445 240L475 395M922 255L935 370M1010 255L1033 350"/>
<path d="M343 227C355 197 425 192 438 222 M348 254C360 224 430 219 443 249 M353 281C365 251 435 246 448 276 M358 308C370 278 440 273 453 303 M363 335C375 305 445 300 458 330 M368 362C380 332 450 327 463 357 M373 389C385 359 455 354 468 384 M904 231C916 199 992 196 1006 226 M910 258C922 226 997 223 1012 253 M916 285C928 253 1002 250 1018 280 M921 312C933 280 1008 277 1023 307 M926 339C938 307 1014 304 1028 334"/>
<ellipse cx="428" cy="408" rx="46" ry="28" transform="rotate(-8 428 408)"/><ellipse cx="428" cy="408" rx="33" ry="19" transform="rotate(-8 428 408)"/>
<ellipse cx="981" cy="365" rx="49" ry="28" transform="rotate(-8 981 365)"/><ellipse cx="981" cy="365" rx="36" ry="19" transform="rotate(-8 981 365)"/>
<path d="M470 425L1093 637M1010 423L1093 612M1093 637L1093 612L1508 -165"/>
<path d="M135 210C145 270 100 330 40 340L0 335M260 260L310 285L340 280M494 250L575 325L600 300L597 260M455 320L580 380L605 365L622 260"/>
</g>
<g class="ln" transform="translate(780 700) scale(0.13187)" stroke-width="7.962">
<path d="M490 430C520 510 570 565 640 572L830 595C900 590 980 530 1000 440C1010 390 990 320 940 265M640 572C720 570 780 500 805 440"/>
</g>

<!-- p20_small_left.svg -->
<!-- nut 1050 + adjuster 192 -->
<g class="ln" transform="translate(60 480) scale(0.16484)" stroke-width="6.370">
<path d="M460 452L365 810"/>
<path d="M265 765L360 785L455 835L445 970L375 1058L265 1038L190 990L180 905L200 825ZM265 765L325 808L340 935L265 1038M325 808L455 835M340 935L445 970"/>
<ellipse cx="262" cy="900" rx="68" ry="116" transform="rotate(4 262 900)"/><ellipse cx="262" cy="900" rx="50" ry="96" transform="rotate(4 262 900)"/>
<path d="M278 815C228 850 228 960 272 990"/>
<path d="M550 985L655 908L770 975L765 1105L655 1180L548 1115ZM655 908L720 920L830 990L828 1120L720 1195L655 1180M770 975L830 990M765 1105L828 1120"/>
<ellipse cx="660" cy="1043" rx="85" ry="97"/><ellipse cx="660" cy="1043" rx="65" ry="77"/>
<path d="M690 985C640 1000 620 1070 650 1105M715 1000C665 1015 650 1075 675 1100M640 990C600 1020 600 1080 640 1100"/>
<path d="M830 990L930 1005C975 1030 995 1070 990 1110C985 1160 950 1195 910 1202L765 1172M700 1201L553 1449"/>
</g>
<!-- rocker arm 1029 -->
<g class="ln" transform="translate(240 600) scale(0.13187)" stroke-width="7.962">
<path d="M670 160L370 635L355 700L232 1238L265 1250L335 1250L405 1300L440 1350L525 1345L545 1300M715 195L410 650L395 720L275 1248M755 245L460 710"/>
<path d="M670 160L780 160L940 262L935 300L830 650L780 800L690 1000L530 1340M715 195L775 185L880 250L812 257M812 257L940 262M845 285L935 280M845 285L745 690L690 830L455 1345M812 257L800 300L700 640L630 830L415 1320"/>
<path d="M755 245L795 300M755 290C760 340 745 400 680 465L725 500M595 565L690 625M510 740C560 680 610 650 650 640M450 760L370 1130M490 790C470 850 490 910 520 940M425 960C460 990 510 1010 545 1015"/>
<ellipse cx="640" cy="800" rx="20" ry="55" transform="rotate(15 640 800)"/>
<path d="M480 1150C490 1110 460 1082 425 1080C385 1080 350 1105 350 1145C352 1190 385 1225 425 1232M440 1232L405 1225L430 1290"/>
<path d="M820 680C880 730 900 800 880 870C860 950 780 1000 690 1000M315 1170L130 1475"/>
</g>

<!-- p21_830_1034.svg -->
<!-- stud 830 + guide 1034 -->
<g class="ln" transform="translate(360 660) scale(0.18681)" stroke-width="5.621">
<ellipse cx="165" cy="312" rx="50" ry="53"/>
<path d="M160 260L330 258L450 240M165 365L330 372L400 385"/>
<path d="M205 262C240 280 240 350 205 368 M227 262C262 280 262 350 227 368 M249 262C284 280 284 350 249 368 M271 262C306 280 306 350 271 368 M293 262C328 280 328 350 293 368 M315 262C350 280 350 350 315 368"/>
<path d="M360 245L420 175L470 172L610 205L620 240L645 340L565 445L490 440L380 418L360 380M420 175L545 210L610 205M545 210L575 330L645 340M575 330L495 440"/>
<path d="M400 245C420 232 450 230 470 235C510 250 520 300 505 350C495 375 470 390 440 392L400 380M400 245L430 235"/>
<path d="M620 240L860 228C900 240 915 280 905 320C900 350 885 368 860 372L640 375"/>
<path d="M690 235C730 260 730 345 695 373 M717 235C757 260 757 345 722 373 M744 235C784 260 784 345 749 373 M771 235C811 260 811 345 776 373 M798 235C838 260 838 345 803 373 M825 235C865 260 865 345 830 373 M852 235C892 260 892 345 857 373"/>
<path d="M1105 215C1120 175 1160 150 1220 158L1620 370C1650 390 1668 420 1662 460L1470 960C1450 990 1420 1005 1380 995L975 770C945 750 930 710 935 670Z"/>
<path d="M1232 156L1632 372C1662 392 1676 428 1670 468L1485 958C1465 992 1430 1008 1398 1000"/>
<ellipse cx="1180" cy="265" rx="48" ry="60" transform="rotate(10 1180 265)"/><path d="M1170 207C1130 225 1130 305 1172 323"/>
<ellipse cx="1555" cy="470" rx="50" ry="60" transform="rotate(10 1555 470)"/><path d="M1545 412C1505 430 1505 510 1547 528"/>
<path d="M1310 390C1330 365 1370 362 1390 385C1400 400 1400 420 1395 440L1255 800C1240 835 1210 850 1185 840C1165 825 1165 800 1172 775ZM1325 400C1340 385 1360 385 1368 400L1240 760M1345 470L1235 770"/>
<circle cx="1115" cy="455" r="30"/><path d="M1088 468L1010 660M1137 480L1060 670M1103 478L1028 655M985 655C970 665 968 700 985 715C1010 735 1045 740 1060 725C1075 705 1070 680 1055 670M1100 440L1100 470L1130 470M990 670C985 690 995 705 1010 715"/>
<circle cx="1482" cy="660" r="30"/><path d="M1455 680L1395 860M1505 690L1435 875M1470 690L1410 865M1360 860C1340 870 1340 900 1360 915C1385 935 1420 940 1435 925C1445 905 1440 885 1425 870M1465 645L1465 675L1495 675M1365 875C1360 895 1370 910 1385 920"/>
</g>

<!-- p22_screw13.svg -->
<!-- screw 13 -->
<g class="ln" transform="translate(500 450) scale(0.10989)" stroke-width="9.555">
<path d="M505 395L560 275L610 268L660 300L680 470L625 570L580 585L515 545ZM520 400L570 290L610 282L650 310L668 465L618 558L585 570L528 535Z"/>
<path d="M610 268L690 258L745 268L785 330M660 300L765 320L775 490L680 470M775 490L770 530L715 600L655 600L580 585M625 570L715 600M765 320L790 330L795 360M560 275L580 262L690 258"/>
<path d="M795 360L1380 400C1420 410 1440 450 1435 490C1430 540 1410 565 1370 570L790 530"/>
<path d="M815 361C843 406 840 486 803 531 M857 364C885 409 882 489 845 534 M899 367C927 412 924 492 887 537 M941 370C969 415 966 495 929 540 M983 373C1011 418 1008 498 971 543 M1025 376C1053 421 1050 501 1013 546 M1067 379C1095 424 1092 504 1055 549 M1109 381C1137 426 1134 506 1097 551 M1151 384C1179 429 1176 509 1139 554 M1193 387C1221 432 1218 512 1181 557 M1235 390C1263 435 1260 515 1223 560 M1277 393C1305 438 1302 518 1265 563 M1319 396C1347 441 1344 521 1307 566 M1361 399C1389 444 1386 524 1349 569"/>
</g>

<!-- p23_gasket7.svg -->
<!-- head gasket 7 -->
<defs>
<path id="g7o" d="M655 200C680 140 730 115 790 115L830 120L1520 500C1580 530 1615 590 1615 650C1610 720 1560 780 1550 830C1550 870 1590 900 1585 950C1575 1000 1550 1050 1530 1080C1500 1100 1460 1100 1440 1125L1310 1470C1300 1510 1330 1530 1370 1555C1420 1590 1445 1640 1440 1700C1430 1760 1380 1795 1320 1795C1280 1795 1250 1770 1200 1770L920 1910C880 1925 840 1925 810 1910L420 1700C370 1670 345 1630 340 1580L295 1330C280 1260 240 1210 190 1185C140 1160 120 1100 130 1050C140 990 190 945 250 945C290 945 320 980 360 975C380 965 385 945 395 920Z"/>
<path id="g7p" d="M500 1335C515 1305 560 1295 590 1310C640 1380 700 1440 780 1470C830 1490 880 1495 925 1500C960 1510 980 1550 970 1600L905 1760C890 1790 860 1800 830 1790L450 1575C430 1560 430 1530 440 1500Z"/>
<clipPath id="g7c"><use href="#g7p"/></clipPath>
<clipPath id="g7b"><ellipse cx="977" cy="853" rx="388" ry="468" transform="rotate(-6 977 853)"/></clipPath>
</defs>
<g class="ln" transform="translate(1180 190) scale(0.19166)" stroke-width="5.478">
<use href="#g7o" class="w" transform="translate(8 -3)"/>
<use href="#g7o" class="w"/>
<ellipse cx="977" cy="853" rx="388" ry="468" transform="rotate(-6 977 853)" class="w"/>
<g clip-path="url(#g7b)"><ellipse cx="989" cy="850" rx="388" ry="468" transform="rotate(-6 989 850)"/></g>
<use href="#g7p" class="w"/>
<g clip-path="url(#g7c)"><use href="#g7p" transform="translate(12 -4)"/></g>
<ellipse cx="755" cy="252" rx="38" ry="55"/><path d="M748 200C720 215 720 290 750 305"/>
<ellipse cx="1495" cy="657" rx="45" ry="57"/><path d="M1500 603C1465 618 1465 695 1502 711"/>
<ellipse cx="232" cy="1072" rx="52" ry="62"/><path d="M240 1012C200 1030 200 1115 242 1132"/>
<ellipse cx="372" cy="1267" rx="38" ry="55"/><path d="M378 1214C348 1230 348 1305 380 1320"/>
<ellipse cx="1105" cy="1672" rx="42" ry="55"/><path d="M1110 1620C1078 1635 1078 1710 1112 1725"/>
<ellipse cx="1322" cy="1672" rx="50" ry="62"/><path d="M1330 1612C1292 1630 1292 1715 1332 1732"/>
</g>

<!-- p24_stud53A.svg -->
<!-- stud 53A -->
<g class="ln" transform="translate(1100 520) scale(0.13187)" stroke-width="7.962">
<path d="M430 250L1232 1398 M545 185L1346 1333 M441 266Q493 226 534 169 M455 286Q507 245 547 188 M469 306Q521 265 561 208 M483 325Q534 285 575 228 M496 345Q548 304 589 247 M510 365Q562 324 602 267 M524 384Q576 344 616 287 M538 404Q589 363 630 306 M551 424Q603 383 643 326 M565 443Q617 403 657 346 M579 463Q631 422 671 365 M593 483Q644 442 685 385 M606 503Q658 462 698 405 M1008 1078Q1060 1037 1100 980 M1022 1098Q1074 1057 1114 1000 M1036 1117Q1087 1077 1128 1020 M1049 1137Q1101 1096 1142 1039 M1063 1157Q1115 1116 1155 1059 M1077 1176Q1129 1136 1169 1079 M1091 1196Q1142 1155 1183 1098 M1104 1216Q1156 1175 1197 1118 M1118 1236Q1170 1195 1210 1138 M1132 1255Q1184 1214 1224 1157 M1146 1275Q1197 1234 1238 1177 M1159 1295Q1211 1254 1251 1197 M1173 1314Q1225 1274 1265 1216 M1187 1334Q1239 1293 1279 1236 M1201 1354Q1252 1313 1293 1256 M1214 1373Q1266 1333 1306 1275"/>
<path d="M430 250C418 200 450 165 490 160C515 160 535 170 545 185"/>
<ellipse cx="1296" cy="1376" rx="50" ry="34" transform="rotate(-32 1296 1376)"/><ellipse cx="1298" cy="1378" rx="36" ry="22" transform="rotate(-32 1298 1378)"/>
</g>

<!-- p30_keeper42.svg -->
<!-- keeper + retainer (42) x2 -->
<defs><g id="k42">
<path d="M420 920C430 870 480 830 545 828C580 828 600 840 620 855L730 915C755 935 765 960 760 985L760 1010C740 1040 700 1055 650 1058L560 1068C500 1070 450 1040 430 1000C415 975 412 950 420 920M420 915L762 985M415 938L760 1010"/>
<path d="M460 910C480 880 520 870 545 872C580 875 605 900 608 935M458 950C465 990 490 1020 510 1025L560 1025C590 1020 605 1000 610 985M620 855C650 890 660 930 650 965M645 995C630 1030 600 1055 570 1065"/>
<ellipse cx="1165" cy="920" rx="165" ry="262"/>
<path d="M1200 663C1290 700 1340 800 1340 920C1340 1040 1290 1140 1200 1177M1230 680C1300 730 1320 820 1320 920C1320 1020 1295 1110 1225 1165"/>
<ellipse cx="1150" cy="920" rx="100" ry="172"/><path d="M1120 755C1050 790 1040 870 1040 920C1040 970 1055 1050 1125 1085"/>
<ellipse cx="1170" cy="922" rx="55" ry="90"/><path d="M1160 838C1120 860 1115 900 1115 925C1115 950 1125 990 1162 1008"/>
</g></defs>
<g class="ln" transform="translate(1600 290) scale(0.142857)" stroke-width="7.350"><use href="#k42"/></g>
<g class="ln" transform="translate(1605.2 635) scale(0.142857)" stroke-width="7.350"><use href="#k42"/></g>

<!-- p31_valves.svg -->
<!-- valves 33/34 + seal 868 -->
<defs><g id="valve">
<ellipse cx="222" cy="272" rx="30" ry="55"/><ellipse cx="228" cy="272" rx="20" ry="42"/>
<path d="M215 217L365 232L390 262L390 310L365 335L215 327M390 262L410 240M390 310L410 340"/>
<path d="M410 240L1120 300C1170 295 1190 260 1220 220M410 340L1100 408C1150 420 1170 450 1185 480M410 240C450 255 455 320 415 340M430 245C470 262 470 322 432 342M1120 305C1132 330 1132 380 1108 408"/>
<ellipse cx="1322" cy="382" rx="135" ry="227" transform="rotate(-3 1322 382)"/>
<ellipse cx="1318" cy="383" rx="126" ry="217" transform="rotate(-3 1318 383)"/>
<path d="M1380 180C1420 240 1430 320 1425 390C1420 470 1395 540 1350 585M1210 270C1240 220 1280 195 1315 192M1185 480C1200 530 1230 565 1265 572M1200 280C1215 250 1260 225 1300 200M1190 470C1215 500 1245 540 1262 568"/>
</g></defs>
<g class="ln" transform="translate(1860 360) scale(0.18681)" style="stroke-width:9.5"><use href="#valve"/></g>
<g class="ln" transform="translate(1892 538.5) scale(0.18681)" style="stroke-width:9.5"><use href="#valve"/></g>
<g class="ln" transform="translate(1740 540) scale(0.25275)" stroke-width="4.154">
<ellipse cx="468" cy="188" rx="35" ry="62"/><ellipse cx="470" cy="188" rx="22" ry="45"/>
<path d="M468 126L500 112L545 118M468 250L500 265L540 262M500 112C545 130 545 250 500 265M478 128C515 145 515 235 478 250"/>
<path d="M545 118C560 95 590 88 610 90C650 110 662 160 660 200C658 260 630 300 590 310C560 305 545 285 540 262M580 92C625 100 645 150 642 200C640 255 620 295 585 308M560 125C610 130 630 170 625 210C620 250 600 275 560 280"/>
</g>

<!-- p40_cover1023.svg -->
<!-- rocker cover 1023 -->
<g class="ln" transform="translate(260 960) scale(0.24176)" stroke-width="4.343">
<path d="M640 340L635 250C640 190 680 150 730 145L790 148L1240 325L1640 610C1670 640 1680 680 1675 720C1670 770 1630 810 1580 840C1545 870 1535 900 1530 950L1500 1340C1495 1400 1470 1440 1440 1480C1400 1530 1380 1570 1370 1620C1355 1670 1310 1690 1260 1695C1210 1695 1180 1670 1160 1630C1150 1600 1130 1580 1100 1565L910 1475"/>
<path d="M730 152L1230 335L1620 615C1650 645 1658 680 1652 720C1640 770 1600 800 1560 830C1520 860 1508 900 1503 950L1475 1330C1470 1390 1445 1430 1415 1470C1380 1520 1355 1570 1345 1615C1335 1660 1310 1685 1285 1692"/>
<ellipse cx="727" cy="245" rx="45" ry="52"/><path d="M740 196C700 210 700 280 742 294"/>
<ellipse cx="1550" cy="707" rx="45" ry="52"/><path d="M1563 658C1523 672 1523 742 1565 756"/>
<ellipse cx="1263" cy="1580" rx="45" ry="52"/><path d="M1276 1531C1236 1545 1236 1615 1278 1629"/>
<path d="M640 345C560 360 470 390 420 420C380 440 350 470 330 495L160 690C120 740 100 790 102 850C110 950 170 1040 290 1115L910 1475"/>
<path d="M640 345L960 338L1340 560C1380 580 1400 620 1398 660L1345 1280C1335 1370 1290 1450 1200 1480L1080 1485L910 1475"/>
<path d="M1330 592L1205 597L990 710C950 740 940 780 935 830L910 1180C908 1220 920 1260 930 1300L955 1380C965 1420 960 1460 910 1475"/>
<path d="M785 367L1175 587M437 455L925 745M158 760L868 1190"/>
<ellipse cx="1070" cy="975" rx="80" ry="90"/><path d="M1110 897C1140 930 1130 1000 1080 1030C1050 1040 1020 1035 1000 1020"/>
<g id="ohv">
<path d="M320 628C335 622 350 625 365 632L455 680C475 692 480 705 475 720L430 825C420 838 405 840 390 833L290 782C272 772 268 755 275 740ZM362 668C375 660 390 665 400 672C415 682 418 695 412 710L385 775C378 790 365 792 350 785C335 778 330 765 335 750Z"/>
<path d="M530 730L555 742L545 785L585 803L625 785L665 805L660 830L610 940L585 945L555 925L560 880L520 862L490 880L445 855L450 830L500 745Z"/>
<path d="M700 840L740 850L750 870L740 935L760 940L805 898L850 910L855 930L750 1020L720 1020L678 985L672 960L680 870Z"/>
</g>
<use href="#ohv" transform="translate(-5 4)"/>
</g>

<!-- p41_screw914.svg -->
<!-- screw 914 -->
<g class="ln" transform="translate(0 1220) scale(0.12088)" stroke-width="8.686">
<path d="M765 335L840 292L880 295L920 405L885 570L830 590L790 600L738 490Z"/>
<path d="M840 292L910 280L950 272L985 285L1030 345L1040 420L1030 520L1020 570L950 635L920 632L880 615L830 590M880 295L960 300L1010 415L980 580L885 570M920 405L1010 415M910 280L960 300M985 285L1020 370L1020 440M980 580L950 600L880 615"/>
<path d="M1035 368L1100 370L1270 382C1310 395 1345 415 1355 440L1352 480C1340 530 1300 550 1260 565L1190 568L1060 560L1040 540"/>
<path d="M1060 375C1080 410 1080 500 1055 545M1110 378C1140 420 1135 500 1100 555M1170 380C1195 430 1190 510 1155 562M1225 385C1250 440 1245 510 1210 565M1280 395C1305 440 1300 500 1270 555M1045 380C1060 420 1060 480 1045 530"/>
</g>

<!-- p42_stud53B.svg -->
<!-- stud 53B -->
<g class="ln" transform="translate(1160 900) scale(0.16484)" stroke-width="6.370">
<path d="M628 255L1238 970 M745 195L1355 910 M651 282Q701 242 739 187 M675 311Q726 271 763 216 M700 339Q750 300 788 245 M725 368Q775 329 813 274 M749 397Q800 358 837 303 M774 426Q824 387 862 332 M799 455Q849 415 887 361 M1047 745Q1097 706 1135 651 M1072 774Q1122 735 1159 680 M1096 803Q1147 764 1184 709 M1121 832Q1171 793 1209 738 M1146 861Q1196 821 1233 767 M1170 890Q1221 850 1258 796 M1195 919Q1245 879 1283 825"/>
<path d="M628 255C620 220 650 185 700 172C720 170 735 180 745 195"/>
<ellipse cx="1305" cy="930" rx="52" ry="36" transform="rotate(-35 1305 930)"/><ellipse cx="1308" cy="932" rx="36" ry="22" transform="rotate(-35 1308 932)"/>
</g>

<!-- p43_rod_tappet.svg -->
<!-- push rod 1026 -->
<g class="ln" stroke-width="1.05">
<path d="M1582 1001.4L1750 1001.6L1750 1002.4L1917 1002.8M1582 1013.8L1750 1014L1750 1014.8L1917 1014.6M1917 1002.8C1922 1003.5 1924.5 1006 1924.5 1008.7C1924.5 1011.5 1922 1014 1917 1014.6M1913 1002.8C1917 1005 1917 1012.5 1913 1014.6"/>
<ellipse cx="1582" cy="1007.6" rx="5.8" ry="6.3"/>
</g>
<!-- tappet 45 -->
<g class="ln" transform="translate(2060 950) scale(0.12088)" stroke-width="8.686">
<ellipse cx="272" cy="515" rx="80" ry="125"/><ellipse cx="297" cy="518" rx="55" ry="92"/>
<path d="M272 392L510 398L980 385L1245 382C1285 410 1300 460 1298 510C1295 560 1275 605 1240 632L740 635L250 640M1120 395C1130 310 1190 230 1280 210L1310 200M1118 635C1150 730 1200 790 1270 812L1310 815"/>
<path d="M1280 210C1400 230 1450 400 1450 510C1450 640 1400 780 1290 813M1310 200C1430 215 1485 380 1485 510C1485 650 1430 800 1320 815"/>
</g>

<!-- p44_wrench383.svg -->
<!-- wrench 383 -->
<g class="ln" transform="translate(1820 1120) scale(0.23077)" stroke-width="4.550">
<path d="M235 118L325 125L330 230L245 320L165 310L165 210ZM245 130L315 135L320 225L240 305L178 298L178 212ZM245 130L320 172M190 240L290 190M190 240L235 308"/>
<path d="M325 125L480 205L490 310L405 420L330 405M330 230L490 310M165 310L330 405L405 420M245 320L330 365M155 272L120 290C115 310 130 330 150 345L165 320"/>
<path d="M480 205C530 225 550 270 548 320C540 390 480 450 420 455C400 455 380 440 375 425"/>
<path d="M540 250L1400 720C1425 770 1420 830 1390 880C1370 915 1330 950 1280 955L420 455"/>
<path d="M1430 755L1470 762C1480 810 1465 870 1440 900L1385 985L1300 975L1298 960M1430 755C1450 800 1440 870 1400 920C1370 950 1340 965 1300 975"/>
<path d="M1470 762L1650 865L1652 980L1565 1090L1480 1082L1300 975M1440 900L1652 980M1385 985L1565 1090"/>
<ellipse cx="1598" cy="893" rx="22" ry="38" transform="rotate(-20 1598 893)"/><path d="M1590 860C1610 870 1622 900 1615 925"/>
<path d="M345 165C400 140 440 105 490 100C540 98 580 105 620 130L1430 645C1445 660 1440 690 1420 705L1405 705L600 185M345 165C335 185 345 215 370 225C420 215 450 170 520 160C560 158 590 170 605 185"/>
</g>

<g style="mix-blend-mode:multiply"><defs>
<clipPath id="wmc"><polygon points="0.0,0.0 57.0,58.0 41.0,122.0 -67.4,228.5 -128.4,459.0 -380.9,541.6 -463.5,625.1 -525.0,645.3 -586.6,582.9 -567.2,524.0 -482.5,439.7 -401.9,188.5 -147.7,103.8 -63.3,19.4"/></clipPath>
<g id="wm" fill="none" stroke="#ececec">
<g clip-path="url(#wmc)"><polygon points="0.0,0.0 57.0,58.0 41.0,122.0 -67.4,228.5 -128.4,459.0 -380.9,541.6 -463.5,625.1 -525.0,645.3 -586.6,582.9 -567.2,524.0 -482.5,439.7 -401.9,188.5 -147.7,103.8 -63.3,19.4" stroke-width="46.6" stroke-linejoin="miter" stroke-miterlimit="10"/>
<path d="M-490.7 464.4L-123.0 95.6M-405.6 549.8L-59.2 203.8" stroke-width="23.3"/></g>
<text transform="translate(-513.5 600.6) rotate(-45) scale(0.95 1)" font-size="56" font-weight="bold" fill="#ececec" stroke="none">WWW.BRIGGSSTRATTON.RU</text>
</g>
</defs>
<use href="#wm" x="746.8" y="225"/>
<use href="#wm" x="2203.2" y="225"/>
<use href="#wm" x="746.8" y="1828.1"/>
<use href="#wm" x="2203.2" y="1828.1"/>
</g>
</svg>
</body></html>
